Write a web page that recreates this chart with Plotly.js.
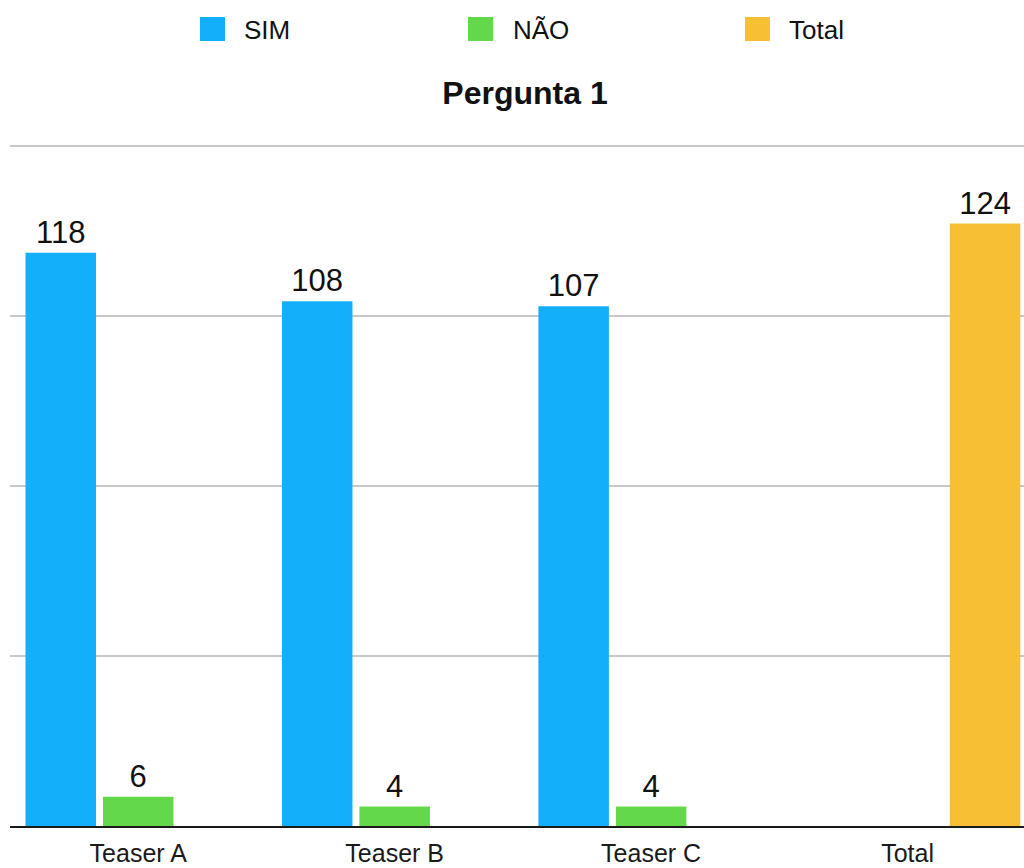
<!DOCTYPE html>
<html>
<head>
<meta charset="utf-8">
<script src="https://cdn.plot.ly/plotly-3.0.1.min.js"></script>
<style>
  html, body { margin: 0; padding: 0; background: #ffffff; }
  #chart { width: 1024px; height: 868px; }
</style>
</head>
<body>
<div id="chart"></div>
<script>
// Respostas à Pergunta 1, por teaser
const categories = ['Teaser A', 'Teaser B', 'Teaser C', 'Total'];
const seriesNames = ['SIM', 'NÃO', 'Total'];
const simValues = [118, 108, 107, null];
const naoValues = [6, 4, 4, null];
const totalValues = [null, null, null, 124];
const chartTitle = 'Pergunta 1';

const colors = ['#14AFFA', '#63D84A', '#F7C034'];
const FONT = '"Liberation Sans", Arial, Helvetica, sans-serif';

const W = 1024, H = 868;
const M = { l: 10, r: 0, t: 141, b: 42 };
const plotW = W - M.l - M.r, plotH = H - M.t - M.b;
// pixel -> paper helpers for the legend block above the title
const px = x => (x - M.l) / plotW;
const py = y => (H - M.b - y) / plotH;

function barTrace(name, values, color) {
  return {
    type: 'bar',
    name: name,
    x: categories,
    y: values,
    marker: { color: color, line: { width: 0 } },
    text: values.map(v => (v === null ? '' : String(v))),
    textposition: 'outside',
    textfont: { family: FONT, size: 31, color: '#111111' },
    cliponaxis: false,
    hoverinfo: 'x+y+name',
    showlegend: false
  };
}

const traces = [
  barTrace(seriesNames[0], simValues, colors[0]),
  barTrace(seriesNames[1], naoValues, colors[1]),
  barTrace(seriesNames[2], totalValues, colors[2])
];

// Legend entries: swatch + label, laid out in a single row
const legendSlots = [
  { sx: 200, tx: 242 },
  { sx: 468, tx: 511 },
  { sx: 745, tx: 787 }
];
const shapes = legendSlots.map((s, i) => ({
  type: 'rect', xref: 'paper', yref: 'paper',
  x0: px(s.sx), x1: px(s.sx + 25), y0: py(41), y1: py(17),
  fillcolor: colors[i], line: { width: 0 }
}));
const annotations = legendSlots.map((s, i) => ({
  xref: 'paper', yref: 'paper',
  x: px(s.tx), y: py(30),
  xanchor: 'left', yanchor: 'middle',
  text: seriesNames[i], showarrow: false,
  font: { family: FONT, size: 26, color: '#111111' }
}));

const layout = {
  width: W, height: H,
  margin: M,
  paper_bgcolor: '#ffffff',
  plot_bgcolor: '#ffffff',
  barmode: 'group',
  bargap: 0.0936,
  bargroupgap: 0.09,
  showlegend: false,
  title: {
    text: '<b>' + chartTitle + '</b>',
    font: { family: FONT, size: 32, color: '#111111' },
    xref: 'paper', x: px(525), xanchor: 'center',
    yref: 'container', y: 1 - 93 / H, yanchor: 'middle'
  },
  xaxis: {
    type: 'category',
    range: [-0.5, 3.454],
    showgrid: false,
    showline: true, linecolor: '#1a1a1a', linewidth: 2,
    ticks: '',
    ticklabelstandoff: 4,
    tickfont: { family: FONT, size: 25, color: '#1a1a1a' },
    fixedrange: true
  },
  yaxis: {
    range: [0, 141],
    tickvals: [35, 70, 105, 140],
    showgrid: true, gridcolor: '#c8c8c8', gridwidth: 2,
    zeroline: false,
    showticklabels: false,
    ticks: '',
    fixedrange: true
  },
  shapes: shapes,
  annotations: annotations
};

Plotly.newPlot('chart', traces, layout, { displayModeBar: false, staticPlot: true });
</script>
</body>
</html>
